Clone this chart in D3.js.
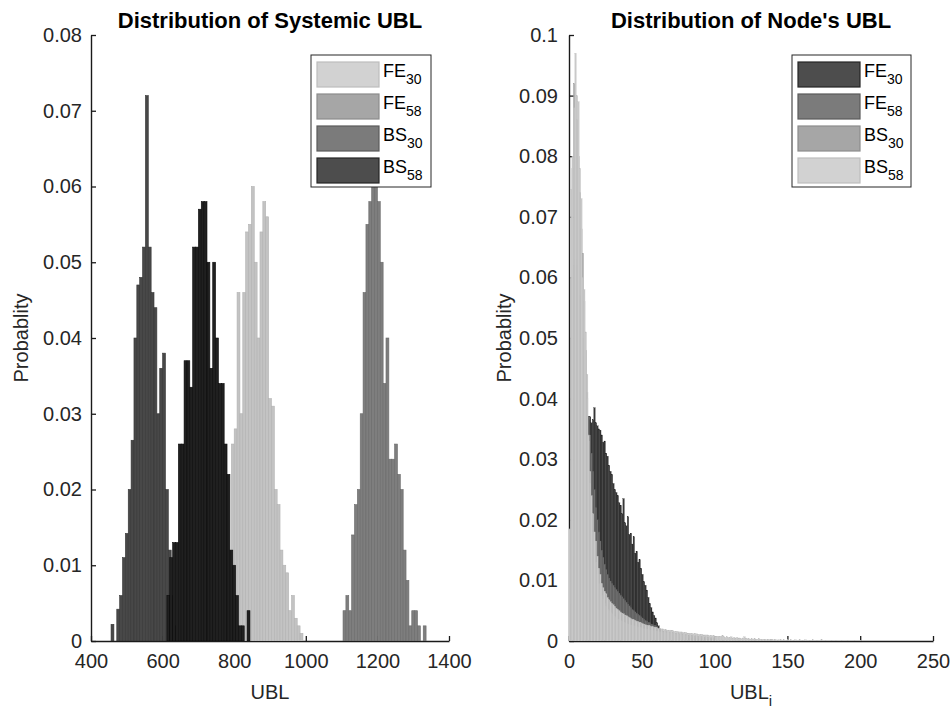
<!DOCTYPE html>
<html><head><meta charset="utf-8">
<script src="https://cdn.jsdelivr.net/npm/d3@7/dist/d3.min.js"></script>
<style>body{margin:0;background:#fff;}svg{display:block;font-family:"Liberation Sans",Arial,sans-serif;}</style>
</head><body>
<svg id="chart" width="950" height="711"></svg>
<script>
// ---------- DATA ----------
const seriesNames = ["FE30", "FE58", "BS30", "BS58"];

// Left panel: Distribution of Systemic UBL (bin width 8)
const sysBinWidth = 8;
const sysFE30Start = 792;
const sysFE30 = [.026,.028,.046,.030,.046,.054,.055,.060,.050,.040,.054,.058,.056,.032,.031,.020,.018,.012,.010,.009,.004,.006,.003,.002,.001];
const sysFE58Start = 1104;
const sysFE58 = [.004,.006,.004,.014,.018,.020,.030,.046,.055,.058,.064,.062,.058,.050,.034,.040,.024,.024,.026,.022,.020,.012,.008,.002,.004,.004,.002,0,.002];
const sysBS30Start = 456;
const sysBS30 = [.0022,0,.0042,.0060,.0110,.0142,.0200,.0265,.0400,.0470,.0480,.0520,.0720,.0520,.0460,.0440,.0300,.0360,.0380,.0200,.0120,.0060,.0020];
const sysBS58Start = 612;
const sysBS58 = [.006,.011,.013,.013,.026,.026,.037,.037,.0335,.052,.052,.057,.058,.058,.050,.036,.050,.040,.034,.034,.026,.022,.012,.010,.006,.002,.002,0,.004];
const sysXTicks = [400, 600, 800, 1000, 1200, 1400];
const sysYTicks = [0, .01, .02, .03, .04, .05, .06, .07, .08];

// Right panel: Distribution of Node's UBL (bin width 1, starting at 0)
const nodeBinWidth = 1;
const nodeFE30 = [.002,.006,.010,.014,.018,.022,.025,.028,.030,.032,.034,.035,.036,
 .0365,.037,.036,.0365,.0385,.036,.0355,.035,.0348,.034,.0328,.033,.031,.0305,.029,.028,.0275,.026,
 .025,.0245,.024,.0228,.0224,.021,.0235,.0195,.019,.0205,.0176,.0178,.016,.0172,.0145,.0148,.013,.0134,.012,.011,
 .0098,.0092,.0084,.0072,.0062,.0055,.0048,.0042,.0038,.003,.0025,.002,.0018,.0016,.0014,.0015,.0012,.0011,.001,.0012,
 .0009,.0008,.001,.0007,.0008,.0006,.0007,.0006,.0005,.0006,.0005,.0004,.0005,.0004,.0005,.0004,.0003,.0004,.0003,.0004,.0003,.0003,.0004,.0003,.0002,.0003,.0003,.0002,.0003,.0002];
const nodeFE58 = [.012,.05,.058,.062,.063,.062,.06,.057,.053,.05,.047,.044,.041,
 .037,.034,.031,.028,.025,.022,.020,.018,.0165,.015,.0138,.0127,.0118,.011,.0104,.0099,.0095,.0092,
 .0088,.0085,.0082,.0079,.0076,.0073,.007,.0067,.0064,.0061,.0058,.0055,.0052,.005,.0048,.0046,.0044,.0042,.004,.0038,.0036,.0034,.0033,.0031,.003,.0028,.0027,.0026,.0025,.0024,
 .0018,.0017,.0018,.0016,.0016,.0017,.0015,.0014,.0015,.0013,.0014,.0013,.0012,.0013,.0012,.0011,.0012,.0011,.0010,.0011,.0010,.0009,.0010,.0009,.0009,.0008,.0009,.0008,.0007,.0008,.0007,.0007,.0006,.0007,.0006,.0006,.0005,.0006,.0005,.0005];
const nodeBS30 = [.012,.06,.078,.092,.09,.086,.08,.074,.068,.064,.056,.048,.040,
 .033,.026,.021,.018,.015,.013,.011,.0095,.0085,.0075,.0068,.0062,.0057,.0053,.005,.0047,.0045,.0042,.004,.0038,.0036,.0035,.0034,.0032,.0031,.003,.0029,.0028,
 .0027,.0026,.0026,.0025,.0024,.0024,.0023,.0022,.0022,.0021,.002,.002,.0019,.0019,.0018,.0018,.0017,.0017,.0016,.0016,
 .0015,.0015,.0015,.0014,.0014,.0014,.0013,.0013,.0013,.0012,.0012,.0012,.0011,.0011,.0011,.001,.001,.001,.0009,.0009];
const nodeBS58 = [.0185,.0745,.080,.088,.097,.090,.089,.078,.073,.060,.058,.051,.044,
 .034,.028,.024,.021,.018,.0165,.014,.012,.011,.0095,.0088,.0082,.0078,.0072,.0068,.0065,.0062,.006,.0057,.0054,.0052,.005,.0048,
 .0046,.0045,.0043,.0042,.004,.0039,.0037,.0036,.0035,.0034,.0033,.0032,.0031,.003,.0029,.0028,.0027,.0026,.0026,.0025,.0024,.0024,.0023,.0022,.0022,
 .0021,.0021,.002,.002,.0019,.0019,.0018,.0018,.0018,.0017,.0017,.0016,.0016,.0016,.0015,.0015,.0015,.0014,.0014,.0014,.0013,.0013,.0013,.0012,.0012,.0012,.0012,.0011,.0011,.0011,.0011,.001,.001,.001,.001,.0009,.0009,.0009,.0009,.0008,
 .0008,.0008,.0007,.0008,.0009,.0007,.0006,.0007,.0006,.0006,.0007,.0005,.0006,.0005,.0006,.0005,.0005,.0004,.0005,.0007,.0005,.0004,.0004,.0003,.0004,.0003,.0004,.0003,.0003,.0004,.0003,.0002,.0003,.0003,.0002,.0003,.0002,.0002,.0003,.0002,.0002,.0002,.0001,.0002,.0002,.0001,.0002,.0001,.0001,.0002,
 0,.0002,0,.0001,.0002,0,0,.0002,0,.0001,0,.0002,0,0,.0001,0,.0002,0,0,.0001,0,0,.0002,0,0,.0001,0,0,0,.0001,0,0,.0001,0,0,0,.0001,0,0,0,.0001,0,0,0,0,.0001,0,0,0,.0001];
const nodeXTicks = [0, 50, 100, 150, 200, 250];
const nodeYTicks = [0, .01, .02, .03, .04, .05, .06, .07, .08, .09, .1];

// ---------- DRAW ----------
const svg = d3.select("#chart");
const fmtY = d => String(+d.toFixed(2));
const fmtX = d => String(d);

function panel(opts) {
  const g = svg.append("g");
  const x = d3.scaleLinear().domain(opts.xDomain).range([opts.left, opts.right]);
  const y = d3.scaleLinear().domain(opts.yDomain).range([641, 35]);

  // axes
  const ax = g.append("g").attr("transform", "translate(0,641)")
    .call(d3.axisBottom(x).tickValues(opts.xTicks).tickFormat(fmtX).tickSizeInner(-5).tickSizeOuter(0).tickPadding(13));
  const ay = g.append("g").attr("transform", `translate(${opts.left},0)`)
    .call(d3.axisLeft(y).tickValues(opts.yTicks).tickFormat(fmtY).tickSizeInner(-5).tickSizeOuter(0).tickPadding(opts.yPad));
  [ax, ay].forEach(a => {
    a.select(".domain").attr("stroke", "#1a1a1a").attr("stroke-width", 1.4);
    a.selectAll(".tick line").attr("stroke", "#1a1a1a").attr("stroke-width", 1.3);
    a.selectAll(".tick text").attr("fill", "#262626").style("font-size", "20px").style("font-family", "'Liberation Sans', Arial, sans-serif");
  });

  // bars
  const clipId = "clip" + opts.id;
  svg.append("clipPath").attr("id", clipId).append("rect")
    .attr("x", opts.left).attr("y", 30).attr("width", opts.right - opts.left).attr("height", 611);
  const bars = g.append("g").attr("clip-path", `url(#${clipId})`);
  opts.series.forEach(s => {
    const items = s.values.map((v, i) => ({x0: s.start + i * opts.binWidth, v}))
      .filter(d => d.v > 0);
    bars.append("g").selectAll("rect").data(items).join("rect")
      .attr("x", d => x(d.x0))
      .attr("width", d => x(d.x0 + opts.binWidth) - x(d.x0))
      .attr("y", d => y(d.v))
      .attr("height", d => y(0) - y(d.v))
      .attr("fill", s.fill)
      .attr("stroke", s.stroke)
      .attr("stroke-width", opts.strokeW);
  });

  // title
  g.append("text").attr("x", (opts.left + opts.right) / 2).attr("y", 28)
    .attr("text-anchor", "middle").style("font-size", "22px").style("font-weight", "bold")
    .attr("fill", "#000").text(opts.title);

  // x label
  const xl = g.append("text").attr("x", (opts.left + opts.right) / 2).attr("y", 699)
    .attr("text-anchor", "middle").style("font-size", "20px").attr("fill", "#262626");
  xl.append("tspan").text(opts.xLabel);
  if (opts.xSub) xl.append("tspan").attr("dy", 7).style("font-size", "15px").text(opts.xSub);

  // y label
  g.append("text").attr("transform", `translate(${opts.yLabelX},338) rotate(-90)`)
    .attr("text-anchor", "middle").style("font-size", "20px").attr("fill", "#262626").text("Probablity");

  // legend
  const lg = g.append("g").attr("transform", `translate(${opts.legX},55)`);
  lg.append("rect").attr("x", 0).attr("y", 0).attr("width", opts.legW).attr("height", 132)
    .attr("fill", "#fff").attr("stroke", "#262626").attr("stroke-width", 1);
  opts.legend.forEach((L, i) => {
    const cy = 19 + i * 32;
    lg.append("rect").attr("x", 6).attr("y", cy - 12).attr("width", 62).attr("height", 25)
      .attr("fill", L.fill).attr("stroke", L.stroke).attr("stroke-width", 1.2);
    const t = lg.append("text").attr("x", 72).attr("y", cy + 3).style("font-size", "18px").attr("fill", "#000");
    t.append("tspan").text(L.name.slice(0, 2));
    t.append("tspan").attr("dy", 7).style("font-size", "14px").text(L.name.slice(2));
  });
}

panel({
  id: "L", left: 91, right: 449, xDomain: [400, 1400], yDomain: [0, 0.08],
  xTicks: sysXTicks, yTicks: sysYTicks, yPad: 9, binWidth: sysBinWidth, strokeW: 0.6,
  title: "Distribution of Systemic UBL", xLabel: "UBL", yLabelX: 28,
  series: [
    {start: sysFE58Start, values: sysFE58, fill: "#7e7e7e", stroke: "#6a6a6a"},
    {start: sysFE30Start, values: sysFE30, fill: "#c3c3c3", stroke: "#b2b2b2"},
    {start: sysBS30Start, values: sysBS30, fill: "#484848", stroke: "#363636"},
    {start: sysBS58Start, values: sysBS58, fill: "#202020", stroke: "#0a0a0a"}
  ],
  legX: 311, legW: 120,
  legend: [
    {name: seriesNames[0], fill: "#d2d2d2", stroke: "#bdbdbd"},
    {name: seriesNames[1], fill: "#a6a6a6", stroke: "#8c8c8c"},
    {name: seriesNames[2], fill: "#7b7b7b", stroke: "#5a5a5a"},
    {name: seriesNames[3], fill: "#4d4d4d", stroke: "#262626"}
  ]
});

panel({
  id: "R", left: 569, right: 933, xDomain: [0, 250], yDomain: [0, 0.1],
  xTicks: nodeXTicks, yTicks: nodeYTicks, yPad: 11, binWidth: nodeBinWidth, strokeW: 0.25,
  title: "Distribution of Node's UBL", xLabel: "UBL", xSub: "i", yLabelX: 511,
  series: [
    {start: 0, values: nodeFE30, fill: "#363636", stroke: "#1c1c1c"},
    {start: 0, values: nodeFE58, fill: "#6f6f6f", stroke: "#5e5e5e"},
    {start: 0, values: nodeBS30, fill: "#a6a6a6", stroke: "#999999"},
    {start: 0, values: nodeBS58, fill: "#c9c9c9", stroke: "#bcbcbc"}
  ],
  legX: 792, legW: 119,
  legend: [
    {name: seriesNames[0], fill: "#4d4d4d", stroke: "#262626"},
    {name: seriesNames[1], fill: "#7b7b7b", stroke: "#5a5a5a"},
    {name: seriesNames[2], fill: "#a6a6a6", stroke: "#8c8c8c"},
    {name: seriesNames[3], fill: "#d2d2d2", stroke: "#bdbdbd"}
  ]
});
</script>
</body></html>
